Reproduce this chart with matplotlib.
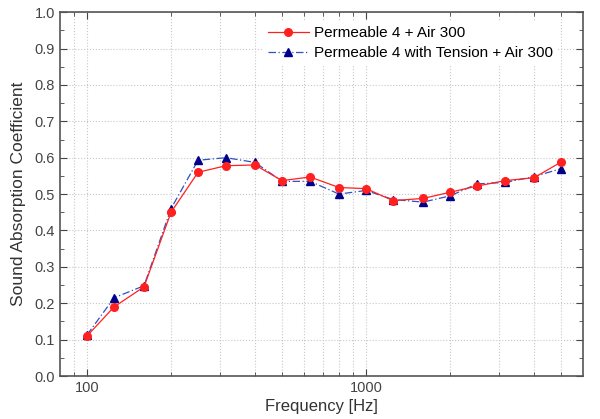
import matplotlib
matplotlib.use('Agg')
import matplotlib.pyplot as plt
from matplotlib.ticker import MultipleLocator, FixedLocator, NullFormatter, FixedFormatter
import numpy as np

plt.rcParams['font.family'] = ['Liberation Sans', 'DejaVu Sans']

freq = [100, 125, 160, 200, 250, 315, 400, 500, 630, 800, 1000,
        1250, 1600, 2000, 2500, 3150, 4000, 5000]
perm4 = [0.11, 0.19, 0.245, 0.45, 0.56, 0.578, 0.58, 0.537, 0.547, 0.518, 0.515,
         0.482, 0.488, 0.505, 0.522, 0.537, 0.545, 0.588]
perm4_tension = [0.113, 0.215, 0.248, 0.46, 0.593, 0.60, 0.587, 0.535, 0.535, 0.50, 0.51,
                 0.485, 0.478, 0.495, 0.528, 0.532, 0.548, 0.57]
labels = ['Permeable 4 + Air 300', 'Permeable 4 with Tension + Air 300']

fig = plt.figure(figsize=(6, 4.19), dpi=100)
ax = fig.add_axes([0.1, 0.1026, 0.872, 0.8684])

ax.plot(freq, perm4, color='#ff2020', lw=0.9, marker='o', ms=5.5, label=labels[0], zorder=4)
ax.plot(freq, perm4_tension, color='#3050c0', lw=0.9, ls=(0, (6, 2, 1, 2)), marker='^',
        ms=6, mfc='#00008b', mec='#00008b', label=labels[1], zorder=3)

ax.set_xscale('log')
ax.set_xlim(80, 6000)
ax.set_ylim(0, 1.0)
ax.xaxis.set_major_locator(FixedLocator([100, 1000]))
ax.xaxis.set_major_formatter(FixedFormatter(['100', '1000']))
ax.xaxis.set_minor_locator(FixedLocator([90, 200, 300, 400, 500, 600, 700, 800, 900,
                                         2000, 3000, 4000, 5000]))
ax.xaxis.set_minor_formatter(NullFormatter())
ax.yaxis.set_major_locator(MultipleLocator(0.1))
ax.yaxis.set_minor_locator(MultipleLocator(0.05))
ax.yaxis.set_major_formatter(plt.FuncFormatter(lambda v, p: '%.1f' % v))

ax.grid(True, which='major', color='#c8c8c8', ls=':', lw=0.8)
ax.grid(True, which='minor', axis='x', color='#c8c8c8', ls=':', lw=0.8)
ax.tick_params(which='both', direction='in', top=True, right=True, labelsize=10.5, colors='#444444')
ax.tick_params(which='major', length=5)
ax.tick_params(which='minor', length=3)
for s in ax.spines.values():
    s.set_color('#555555')
    s.set_linewidth(1.2)

ax.set_xlabel('Frequency [Hz]', fontsize=12, color='#333333', labelpad=3)
ax.set_ylabel('Sound Absorption Coefficient', fontsize=12.5, color='#333333', labelpad=6)

leg = ax.legend(loc='upper right', bbox_to_anchor=(0.965, 0.995), frameon=True, fontsize=11,
                handlelength=2.7, handletextpad=0.3, borderpad=0.3, labelspacing=0.4)
leg.get_frame().set_edgecolor('none')
leg.get_frame().set_alpha(1)

fig.savefig('out.png', dpi=100)
